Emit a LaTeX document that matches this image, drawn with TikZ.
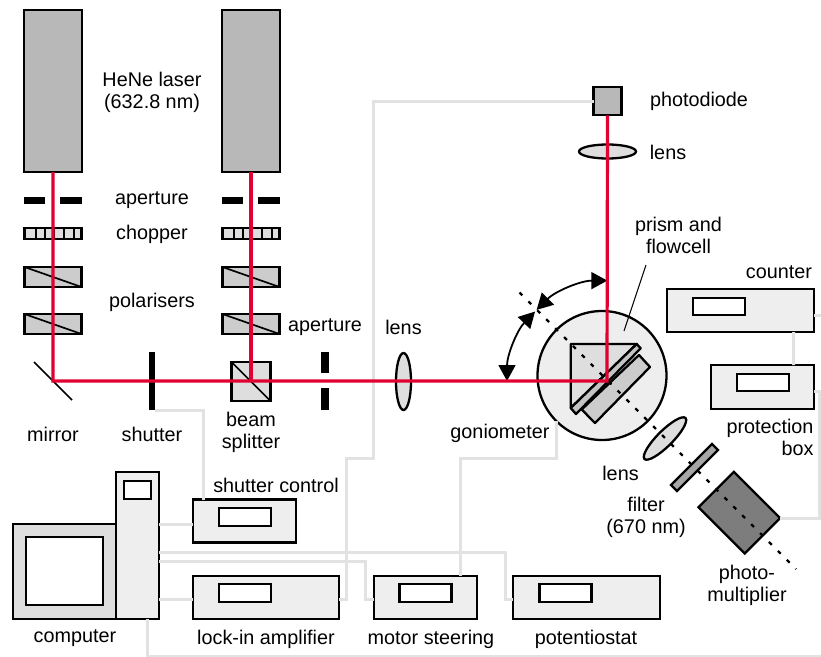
\documentclass[tikz,border=0pt]{standalone}
\usepackage{fontspec}
\setmainfont{Liberation Sans}
\usetikzlibrary{arrows.meta,positioning,shapes}
\definecolor{beamcolor}{RGB}{226,0,48}
\definecolor{wirecolor}{RGB}{226,226,226}
\definecolor{boxcolor}{RGB}{238,238,238}
\definecolor{lasercolor}{RGB}{184,184,184}
\definecolor{polcolor}{RGB}{204,204,204}
\definecolor{glasscolor}{RGB}{222,222,222}
\definecolor{pmcolor}{RGB}{125,125,125}
\tikzset{
  part/.style={draw=black, line width=2.3pt, inner sep=0pt, outer sep=0pt},
  laserbox/.style={part, fill=lasercolor, minimum width=58, minimum height=162},
  apert/.style={fill=black, inner sep=0pt, outer sep=0pt, minimum width=21.5, minimum height=7},
  slit/.style={fill=black, inner sep=0pt, outer sep=0pt, minimum width=7.5, minimum height=21.5},
  chopbox/.style={part, fill=glasscolor, minimum width=57, minimum height=11},
  polbox/.style={part, fill=polcolor, minimum width=57, minimum height=20},
  instr/.style={part, fill=boxcolor, minimum height=43},
  winbox/.style={part, fill=white, minimum width=52, minimum height=17.5},
  lensbox/.style={part, ellipse, fill=glasscolor},
  wire/.style={draw=wirecolor, line width=3pt},
  beam/.style={draw=beamcolor, line width=3.2pt},
  lbl/.style={font=\fontsize{19.8}{22}\selectfont, inner sep=0pt, align=center}
}
\begin{document}
\begin{tikzpicture}[x=1pt, y=-1pt]
    \useasboundingbox (0,0) rectangle (821,656);
    \coordinate (edgeB) at (821,656.5);
    % Instruments
    \node[instr, minimum width=103] (shutctl) at (244.5,521) {};
    \node[instr, minimum width=146] (lockin) at (266,597.5) {};
    \node[instr, minimum width=103] (motor) at (425.5,597.5) {};
    \node[instr, minimum width=147] (potent) at (586.5,597.5) {};
    \node[instr, minimum width=147] (counter) at (740.5,310.5) {};
    \node[instr, minimum width=103, minimum height=44] (prot) at (762.5,387) {};
    % Computer
    \node[part, fill=glasscolor, minimum width=103, minimum height=95] (monitor) at (64.5,571.5) {};
    \node[part, fill=white, minimum width=77, minimum height=68] (screen) at (64.5,571) {};
    \node[part, fill=boxcolor, minimum width=43, minimum height=147] (tower) at (137.5,545.5) {};
    \node[part, fill=white, minimum width=27, minimum height=18] (drive) at (137.5,490) {};
    % Windows of the instruments
    \node[winbox] at (245,517) {};
    \node[winbox] at (245,593) {};
    \node[winbox] at (425.5,593) {};
    \node[winbox] at (565.5,593) {};
    \node[winbox] at (719,306.5) {};
    \node[winbox] at (763,382.5) {};
    % Lasers and their optics
    \node[laserbox] (laserA) at (53,91) {};
    \node[laserbox] (laserB) at (251,91) {};
    \node[apert] at (34.5,200.5) {};
    \node[apert] at (71,200.5) {};
    \node[apert] at (232.5,200.5) {};
    \node[apert] at (269,200.5) {};
    \node[chopbox] (chopA) at (53,233.5) {};
    \node[chopbox] (chopB) at (251,233.5) {};
    \foreach \dx in {-17.5,-8.5,1,11,20.5} {
      \draw[line width=2pt] ([xshift=\dx pt]chopA.north) -- ([xshift=\dx pt]chopA.south);
      \draw[line width=2pt] ([xshift=\dx pt]chopB.north) -- ([xshift=\dx pt]chopB.south);
    }
    \node[polbox] (polA) at (53,277) {};
    \node[polbox] (polB) at (53,324) {};
    \node[polbox] (polC) at (251,277) {};
    \node[polbox] (polD) at (251,324) {};
    \draw[line width=1.7pt] (polA.north west) -- (polA.south east);
    \draw[line width=1.7pt] (polB.north west) -- (polB.south east);
    \draw[line width=1.7pt] (polC.north west) -- (polC.south east);
    \draw[line width=1.7pt] (polD.north west) -- (polD.south east);
    % Mirror, shutter, splitter, aperture, lens
    \draw[line width=1.7pt] (34,362) -- (72,400);
    \node[fill=black, inner sep=0pt, outer sep=0pt, minimum width=6.5, minimum height=58] (shutter) at (152,381) {};
    \node[part, fill=glasscolor, minimum width=39, minimum height=39] (split) at (251,381.5) {};
    \draw[line width=1.7pt] (split.north west) -- (split.south east);
    \node[slit] at (325,362.5) {};
    \node[slit] at (325,399) {};
    \node[lensbox, minimum width=15, minimum height=57] (lensA) at (403.5,381.5) {};
    % Goniometer with prism and flowcell
    \node[part, circle, fill=boxcolor, minimum size=129] (gonio) at (602,375.5) {};
    \draw[line width=2.3pt, line join=round, fill=polcolor] (639,355) -- (650,367) -- (595,423) -- (581.7,409.5) -- cycle;
    \draw[line width=2.3pt, line join=round, fill=glasscolor] (570.7,344) -- (636.7,344) -- (570.7,408) -- cycle;
    \draw[line width=2.3pt, line join=round, fill=lasercolor!85!white] (636.7,344) -- (640.7,348.3) -- (576,414) -- (570.7,408) -- cycle;
    % Detection arm
    \node[lensbox, rotate=45, minimum width=58, minimum height=15.5] (lensC) at (665,438.5) {};
    \node[part, fill=lasercolor!70!pmcolor, rotate=45, minimum width=58, minimum height=8.5] (filter) at (694.5,467.5) {};
    \node[part, fill=pmcolor, rotate=-45, minimum width=65.5, minimum height=50] (pm) at (739.3,512.7) {};
    % Photodiode and its lens
    \node[part, fill=lasercolor, minimum width=28, minimum height=28] (photod) at (607.5,101.3) {};
    \node[lensbox, minimum width=57, minimum height=14] (lensB) at (607.5,151.5) {};
    % Wires
    \draw[wire] (shutter.south east) -| ([xshift=-41.5pt]shutctl.north);
    \draw[wire] ([yshift=21.5pt]tower.east) -- ([yshift=-3pt]shutctl.west);
    \draw[wire] ([yshift=-6.5pt]tower.east) -- ++(346,0) |- ([yshift=-1.5pt]potent.west);
    \draw[wire] ([yshift=-15.5pt]tower.east) -- ++(206,0) |- ([yshift=-1.5pt]motor.west);
    \draw[wire] ([yshift=-53.5pt]tower.east) -- ([yshift=-1.5pt]lockin.west);
    \draw[wire] ([xshift=9.5pt]tower.south) |- (edgeB);
    \draw[wire] ([yshift=-1.5pt]lockin.east) -- ++(7,0) -- ++(0,-141) -- ++(27,0) |- (photod.west);
    \draw[wire] ([xshift=35pt]motor.north) -- ++(0,-118) -| (gonio.225);
    \draw[wire] ([yshift=-4.5pt]counter.east) -- ++(7,0);
    \draw[wire] ([xshift=53pt]counter.south) -- ([xshift=31.2pt]prot.north);
    \draw[wire] ([yshift=-4pt]prot.east) -- ++(5.5,0) |- (pm.north east);
    % Optical axis of the detection arm
    \draw[line width=2.2pt, dash pattern=on 4pt off 8.6pt] (519.5,292.5) -- (796,569);
    % Angle arrows
    \draw[line width=1.8pt, {Triangle[length=16pt,width=17pt]}-{Triangle[length=16pt,width=17pt]}] (536.6,309.9) arc[start angle=-135, end angle=-90, radius=100];
    \draw[line width=1.8pt, {Triangle[length=16pt,width=17pt]}-{Triangle[length=16pt,width=17pt]}] (507,381) arc[start angle=180, end angle=224, radius=100];
    % Beams
    \draw[beam] (laserA.south) -- (53,381) -- (607,381) -- (photod.south);
    \draw[beam] (laserB.south) -- (251,381);
    % Pointer to the cell
    \coordinate (leadA) at (646,265);
    \coordinate (leadB) at (624,331);
    \draw[line width=1pt] (leadA) -- (leadB);
    % Labels
    \node[lbl] (lblHene) at (152,92) {HeNe laser\\(632.8 nm)};
    \node[lbl] (lblAper) at (152,200.5) {aperture};
    \node[lbl] (lblChop) at (152,234) {chopper};
    \node[lbl] (lblPol) at (152,302) {polarisers};
    \node[lbl] (lblAperB) at (325,327.5) {aperture};
    \node[lbl] (lblLensA) at (403.5,327) {lens};
    \node[lbl] (lblMirror) at (53,434) {mirror};
    \node[lbl] (lblShut) at (152,434) {shutter};
    \node[lbl] (lblSplit) at (251,432) {beam\\splitter};
    \node[lbl] (lblGonio) at (500,433) {goniometer};
    \node[lbl] (lblPhotod) at (699,101.5) {photodiode};
    \node[lbl] (lblLensB) at (668,152) {lens};
    \node[lbl] (lblPrism) at (678.5,235) {prism and\\flowcell};
    \node[lbl] (lblCount) at (779,272) {counter};
    \node[lbl, align=right] (lblProt) at (770,437) {protection\\box};
    \node[lbl] (lblLensC) at (620.5,473) {lens};
    \node[lbl] (lblFilter) at (646,517.5) {filter\\(670 nm)};
    \node[lbl] (lblPm) at (747,585.5) {photo-\\multiplier};
    \node[lbl] (lblShutC) at (276,485) {shutter control};
    \node[lbl] (lblComp) at (75,638) {computer};
    \node[lbl] (lblLock) at (266,639) {lock-in amplifier};
    \node[lbl] (lblMotor) at (431,639) {motor steering};
    \node[lbl] (lblPot) at (586,639) {potentiostat};
\end{tikzpicture}
\end{document}
